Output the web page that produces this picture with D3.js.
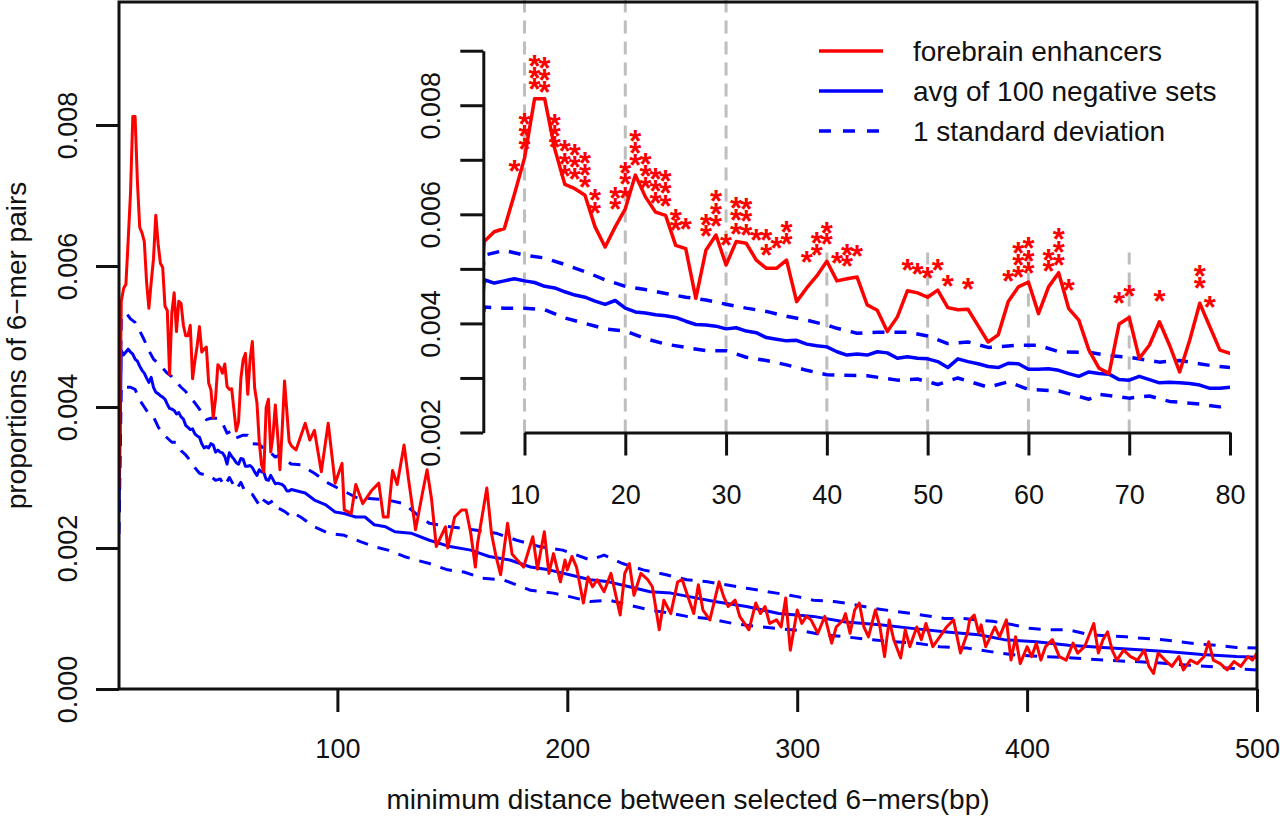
<!DOCTYPE html>
<html>
<head>
<meta charset="utf-8">
<script src="https://cdn.jsdelivr.net/npm/d3@7"></script>
<style>
  body { margin: 0; background: #fff; }
  text { font-family: "Liberation Sans", Arial, Helvetica, sans-serif; fill: #111; }
</style>
</head>
<body>
<svg id="chart" width="1280" height="821"></svg>
<script>
// forebrain enhancers, one value per bp from 5 to 80, then sparser further out
var redNearY = [0.00285, 0.00550, 0.00568, 0.00574, 0.00637, 0.00703, 0.00812, 0.00812, 0.00720, 0.00655,
  0.00647, 0.00635, 0.00577, 0.00540, 0.00577, 0.00610, 0.00672, 0.00632, 0.00604, 0.00598,
  0.00543, 0.00537, 0.00446, 0.00534, 0.00562, 0.00507, 0.00550, 0.00547, 0.00516, 0.00501,
  0.00501, 0.00516, 0.00440, 0.00465, 0.00487, 0.00514, 0.00478, 0.00482, 0.00485, 0.00434,
  0.00424, 0.00385, 0.00412, 0.00460, 0.00456, 0.00448, 0.00461, 0.00429, 0.00425, 0.00426,
  0.00396, 0.00366, 0.00379, 0.00440, 0.00467, 0.00476, 0.00418, 0.00467, 0.00493, 0.00427,
  0.00406, 0.00351, 0.00318, 0.00308, 0.00399, 0.00411, 0.00336, 0.00360, 0.00403, 0.00360,
  0.00311, 0.00369, 0.00437, 0.00394, 0.00351, 0.00345];
var redFarX = [82, 86, 88, 90, 93, 96, 99, 102, 103, 106, 108, 111, 115, 118, 120, 122, 124, 126, 129, 131,
  134, 137, 139, 141, 143, 147, 148, 151, 154, 156, 158, 160, 161, 165, 167, 169, 171, 174, 176, 181,
  185, 187, 190, 192, 194, 197, 199, 200, 202, 204, 207, 209, 211, 213, 216, 219, 223, 225, 227, 229,
  232, 235, 237, 240, 242, 245, 248, 250, 253, 255, 257, 259, 262, 266, 268, 270, 273, 275, 279, 282,
  284, 286, 288, 291, 293, 295, 297, 300, 302, 304, 306, 309, 312, 315, 317, 320, 321, 323, 325, 327,
  329, 331, 334, 336, 338, 340, 342, 345, 347, 349, 352, 354, 356, 359, 362, 365, 368, 371, 374, 375,
  377, 379, 380, 382, 384, 386, 388, 391, 393, 395, 397, 400, 402, 404, 406, 408, 411, 414, 417, 420,
  422, 425, 429, 431, 433, 435, 437, 439, 442, 445, 448, 451, 453, 455, 457, 460, 463, 466, 468, 471,
  474, 477, 479, 481, 484, 487, 490, 493, 496, 498, 500];
var redFarY = [0.00339, 0.00377, 0.00353, 0.00367, 0.00308, 0.00377, 0.00292, 0.00320, 0.00254, 0.00249,
  0.00290, 0.00263, 0.00282, 0.00292, 0.00244, 0.00244, 0.00310, 0.00290, 0.00346, 0.00296,
  0.00226, 0.00278, 0.00311, 0.00268, 0.00202, 0.00230, 0.00200, 0.00244, 0.00254, 0.00254,
  0.00221, 0.00173, 0.00207, 0.00285, 0.00221, 0.00188, 0.00162, 0.00235, 0.00191, 0.00173,
  0.00216, 0.00170, 0.00223, 0.00164, 0.00192, 0.00152, 0.00183, 0.00169, 0.00188, 0.00173,
  0.00122, 0.00159, 0.00145, 0.00155, 0.00138, 0.00164, 0.00105, 0.00164, 0.00178, 0.00133,
  0.00164, 0.00155, 0.00145, 0.00084, 0.00126, 0.00107, 0.00152, 0.00155, 0.00126, 0.00107,
  0.00148, 0.00112, 0.00098, 0.00152, 0.00131, 0.00117, 0.00126, 0.00103, 0.00084, 0.00122,
  0.00107, 0.00117, 0.00093, 0.00098, 0.00088, 0.00129, 0.00055, 0.00112, 0.00093, 0.00103,
  0.00098, 0.00079, 0.00103, 0.00065, 0.00088, 0.00098, 0.00107, 0.00079, 0.00112, 0.00122,
  0.00088, 0.00074, 0.00112, 0.00088, 0.00046, 0.00098, 0.00070, 0.00044, 0.00084, 0.00060,
  0.00088, 0.00070, 0.00093, 0.00060, 0.00074, 0.00088, 0.00098, 0.00051, 0.00079, 0.00098,
  0.00105, 0.00079, 0.00091, 0.00060, 0.00074, 0.00088, 0.00074, 0.00098, 0.00041, 0.00074,
  0.00036, 0.00060, 0.00046, 0.00065, 0.00041, 0.00060, 0.00070, 0.00046, 0.00041, 0.00065,
  0.00051, 0.00060, 0.00093, 0.00051, 0.00070, 0.00081, 0.00055, 0.00041, 0.00055, 0.00046,
  0.00041, 0.00055, 0.00032, 0.00022, 0.00051, 0.00041, 0.00032, 0.00046, 0.00027, 0.00041,
  0.00036, 0.00046, 0.00067, 0.00041, 0.00036, 0.00027, 0.00039, 0.00032, 0.00046, 0.00041, 0.00051];

// avg of 100 negative sets, one value per bp from 5 to 80, then sparser
var avgNearY = [0.00250, 0.00480, 0.00474, 0.00478, 0.00482, 0.00478, 0.00475, 0.00468, 0.00465, 0.00458,
  0.00452, 0.00448, 0.00441, 0.00435, 0.00442, 0.00428, 0.00421, 0.00419, 0.00416, 0.00414,
  0.00411, 0.00404, 0.00398, 0.00397, 0.00395, 0.00390, 0.00392, 0.00386, 0.00383, 0.00374,
  0.00371, 0.00368, 0.00369, 0.00362, 0.00359, 0.00357, 0.00348, 0.00342, 0.00344, 0.00342,
  0.00348, 0.00346, 0.00336, 0.00339, 0.00336, 0.00335, 0.00330, 0.00319, 0.00335, 0.00330,
  0.00326, 0.00321, 0.00319, 0.00327, 0.00326, 0.00316, 0.00316, 0.00317, 0.00314, 0.00308,
  0.00303, 0.00311, 0.00308, 0.00307, 0.00297, 0.00296, 0.00303, 0.00297, 0.00291, 0.00292,
  0.00291, 0.00290, 0.00287, 0.00281, 0.00281, 0.00283];
var avgFarX = [86, 90, 95, 99, 103, 108, 112, 116, 121, 125, 132, 140, 149, 158, 166, 175, 184, 192, 201, 210,
  218, 227, 236, 245, 253, 264, 278, 292, 307, 321, 336, 350, 365, 379, 390, 404, 418, 433, 447, 462,
  476, 491, 500];
var avgFarY = [0.00278, 0.00268, 0.00261, 0.00251, 0.00249, 0.00244, 0.00244, 0.00233, 0.00230, 0.00223,
  0.00221, 0.00211, 0.00202, 0.00197, 0.00188, 0.00183, 0.00173, 0.00169, 0.00162, 0.00155,
  0.00152, 0.00145, 0.00138, 0.00136, 0.00131, 0.00124, 0.00117, 0.00107, 0.00103, 0.00095,
  0.00091, 0.00086, 0.00081, 0.00077, 0.00070, 0.00067, 0.00062, 0.00059, 0.00056, 0.00053,
  0.00049, 0.00046, 0.00045];

// avg + 1 sd
var sdHiX = [5, 6, 8, 10, 12, 14, 16, 18, 20, 22, 24, 26, 28, 30, 32, 34, 36, 38, 40, 41, 43, 45, 48, 50, 52,
  54, 56, 59, 61, 63, 66, 68, 70, 73, 75, 78, 80, 84, 90, 96, 102, 108, 115, 122, 129, 134, 140, 149,
  159, 169, 178, 188, 198, 210, 216, 224, 233, 243, 252, 261, 269, 278, 291, 300, 307, 316, 321, 334,
  343, 350, 364, 372, 385, 394, 401, 410, 418, 427, 443, 450, 459, 466, 474, 482, 491, 500];
var sdHiY = [0.00290, 0.00525, 0.00534, 0.00525, 0.00520, 0.00508, 0.00495, 0.00480, 0.00468, 0.00462,
  0.00455, 0.00448, 0.00443, 0.00435, 0.00428, 0.00422, 0.00413, 0.00406, 0.00397, 0.00391,
  0.00382, 0.00384, 0.00384, 0.00377, 0.00363, 0.00366, 0.00356, 0.00360, 0.00360, 0.00348,
  0.00347, 0.00341, 0.00338, 0.00329, 0.00332, 0.00323, 0.00319, 0.00318, 0.00306, 0.00292,
  0.00282, 0.00272, 0.00270, 0.00268, 0.00263, 0.00249, 0.00235, 0.00230, 0.00226, 0.00221,
  0.00211, 0.00202, 0.00197, 0.00183, 0.00190, 0.00178, 0.00169, 0.00162, 0.00155, 0.00152,
  0.00148, 0.00143, 0.00136, 0.00131, 0.00126, 0.00124, 0.00122, 0.00114, 0.00110, 0.00107,
  0.00100, 0.00100, 0.00096, 0.00091, 0.00086, 0.00084, 0.00084, 0.00077, 0.00074, 0.00072,
  0.00070, 0.00067, 0.00064, 0.00062, 0.00059, 0.00058];

// avg - 1 sd
var sdLoX = [5, 6, 8, 10, 12, 14, 16, 18, 20, 22, 24, 26, 28, 30, 32, 34, 36, 38, 40, 41, 44, 47, 49, 51, 53,
  56, 58, 60, 63, 66, 67, 70, 72, 74, 77, 79, 80, 84, 90, 96, 103, 110, 116, 122, 129, 133, 140, 148,
  155, 163, 172, 184, 194, 201, 210, 218, 227, 236, 246, 252, 261, 272, 282, 291, 301, 311, 321, 332,
  342, 352, 362, 374, 384, 395, 408, 420, 433, 446, 458, 469, 479, 490, 500];
var sdLoY = [0.00220, 0.00430, 0.00428, 0.00428, 0.00425, 0.00410, 0.00400, 0.00390, 0.00386, 0.00372,
  0.00362, 0.00356, 0.00350, 0.00350, 0.00338, 0.00332, 0.00324, 0.00314, 0.00306, 0.00305,
  0.00304, 0.00296, 0.00298, 0.00288, 0.00300, 0.00283, 0.00293, 0.00279, 0.00276, 0.00261,
  0.00270, 0.00263, 0.00267, 0.00257, 0.00252, 0.00247, 0.00251, 0.00244, 0.00230, 0.00221,
  0.00218, 0.00209, 0.00202, 0.00197, 0.00188, 0.00184, 0.00178, 0.00169, 0.00166, 0.00157,
  0.00155, 0.00140, 0.00136, 0.00131, 0.00124, 0.00126, 0.00119, 0.00112, 0.00107, 0.00103,
  0.00100, 0.00093, 0.00089, 0.00086, 0.00083, 0.00077, 0.00074, 0.00070, 0.00067, 0.00065,
  0.00060, 0.00058, 0.00053, 0.00048, 0.00046, 0.00044, 0.00041, 0.00039, 0.00037, 0.00034,
  0.00032, 0.00029, 0.00027];

// significance asterisks in the inset (bp, height)
var starX = [9, 10, 10, 10, 11, 11, 11, 12, 12, 12, 13, 13, 13, 14, 14, 14, 15, 15, 15, 16, 16, 16,
  17, 17, 19, 19, 20, 20, 20, 21, 21, 21, 22, 22, 22, 23, 23, 23, 24, 24, 24, 25, 25, 26,
  28, 28, 29, 29, 29, 30, 31, 31, 31, 32, 32, 32, 33, 34, 34, 35, 36, 36, 38, 39, 39, 40, 40,
  41, 42, 42, 43, 48, 49, 50, 51, 52, 54, 58, 59, 59, 59, 60, 60, 60, 62, 62, 63, 63, 63, 64,
  69, 70, 73, 77, 77, 78];
var starY = [0.00690, 0.00777, 0.00754, 0.00731, 0.00883, 0.00861, 0.00840, 0.00879, 0.00858, 0.00836,
  0.00775, 0.00754, 0.00734, 0.00727, 0.00704, 0.00682, 0.00720, 0.00698, 0.00675, 0.00705,
  0.00684, 0.00661, 0.00637, 0.00614, 0.00641, 0.00620, 0.00687, 0.00666, 0.00641, 0.00745,
  0.00723, 0.00702, 0.00703, 0.00682, 0.00659, 0.00675, 0.00653, 0.00632, 0.00672, 0.00650,
  0.00627, 0.00601, 0.00583, 0.00585, 0.00592, 0.00571, 0.00635, 0.00612, 0.00589, 0.00554,
  0.00622, 0.00600, 0.00575, 0.00620, 0.00598, 0.00574, 0.00564, 0.00564, 0.00537, 0.00549,
  0.00579, 0.00556, 0.00523, 0.00559, 0.00537, 0.00577, 0.00556, 0.00522, 0.00537, 0.00516,
  0.00534, 0.00509, 0.00501, 0.00494, 0.00509, 0.00479, 0.00474, 0.00488, 0.00540, 0.00518,
  0.00496, 0.00549, 0.00525, 0.00503, 0.00528, 0.00507, 0.00565, 0.00542, 0.00519, 0.00472,
  0.00448, 0.00462, 0.00452, 0.00498, 0.00476, 0.00441];

// grey guide lines in the inset and how high each one reaches
var guideX = [10, 20, 30, 40, 50, 60, 70];
var guideTop = [0.0100, 0.0100, 0.0100, 0.0053, 0.0053, 0.0053, 0.0053];

var mainXTicks = [100, 200, 300, 400, 500];
var mainYTicks = [0, 0.002, 0.004, 0.006, 0.008];
var insetXTicks = [10, 20, 30, 40, 50, 60, 70, 80];
var insetYTicks = [0.002, 0.003, 0.004, 0.005, 0.006, 0.007, 0.008, 0.009];

var legendLabels = ["forebrain enhancers", "avg of 100 negative sets", "1 standard deviation"];

var RED = "#ff0000", BLUE = "#0000ff", GREY = "#bebebe";
var FONT = '"Liberation Sans", Arial, Helvetica, sans-serif';

function zip(xs, ys) {
  return xs.map(function(d, i) { return {x: d, y: ys[i]}; });
}

var nearX = d3.range(5, 81);
var red = zip(nearX.concat(redFarX), redNearY.concat(redFarY));
var avg = zip(nearX.concat(avgFarX), avgNearY.concat(avgFarY));
var sdHi = zip(sdHiX, sdHiY);
var sdLo = zip(sdLoX, sdLoY);

var series = [
  {data: sdHi, color: BLUE, dash: "12,10"},
  {data: sdLo, color: BLUE, dash: "12,10"},
  {data: avg, color: BLUE, dash: null},
  {data: red, color: RED, dash: null}
];

var svg = d3.select("#chart");

// main plot region
var box = {left: 119, right: 1257, top: 2, bottom: 689};
var x = d3.scaleLinear().domain([5, 500]).range([box.left, box.right]);
var y = d3.scaleLinear().domain([0, 0.008]).range([box.bottom, 125]);

// inset plot region
var inset = {left: 483.3, right: 1230, top: 0, bottom: 432.5};
var xi = d3.scaleLinear().domain([10, 80]).range([524.5, 1230]);
var yi = d3.scaleLinear().domain([0.002, 0.009]).range([432.5, 50.7]);

var defs = svg.append("defs");
defs.append("clipPath").attr("id", "clipMain").append("rect")
    .attr("x", box.left).attr("y", box.top)
    .attr("width", box.right - box.left).attr("height", box.bottom - box.top);
defs.append("clipPath").attr("id", "clipInset").append("rect")
    .attr("x", inset.left).attr("y", inset.top)
    .attr("width", inset.right - inset.left).attr("height", inset.bottom - inset.top);

// ---- main lines
var mainLine = d3.line().x(function(d) { return x(d.x); }).y(function(d) { return y(d.y); });
var gMain = svg.append("g").attr("clip-path", "url(#clipMain)");
series.forEach(function(s) {
  gMain.append("path")
      .datum(s.data)
      .attr("d", mainLine)
      .attr("fill", "none")
      .attr("stroke", s.color)
      .attr("stroke-width", 3)
      .attr("stroke-dasharray", s.dash)
      .attr("stroke-linejoin", "round");
});

// ---- inset
var gInset = svg.append("g").attr("clip-path", "url(#clipInset)");

gInset.selectAll(".guide")
    .data(guideX)
  .enter().append("line")
    .attr("class", "guide")
    .attr("x1", function(d) { return xi(d); })
    .attr("x2", function(d) { return xi(d); })
    .attr("y1", yi(0.002))
    .attr("y2", function(d, i) { return yi(guideTop[i]); })
    .attr("stroke", GREY)
    .attr("stroke-width", 3)
    .attr("stroke-dasharray", "13,8");

var insetLine = d3.line().x(function(d) { return xi(d.x); }).y(function(d) { return yi(d.y); });
series.forEach(function(s) {
  gInset.append("path")
      .datum(s.data.filter(function(d) { return d.x <= 82; }))
      .attr("d", insetLine)
      .attr("fill", "none")
      .attr("stroke", s.color)
      .attr("stroke-width", 3.5)
      .attr("stroke-dasharray", s.dash)
      .attr("stroke-linejoin", "round");
});

// significance asterisks, drawn as text like the original
svg.append("g").selectAll("text")
    .data(zip(starX, starY))
  .enter().append("text")
    .attr("x", function(d) { return xi(d.x); })
    .attr("y", function(d) { return yi(d.y); })
    .attr("dy", "0.55em")
    .attr("text-anchor", "middle")
    .style("fill", RED)
    .style("font-size", "31px")
    .style("font-weight", "bold")
    .text("*");

// ---- axes
function styleAxis(g) {
  g.attr("font-family", FONT).attr("font-size", 27);
  g.selectAll("line").attr("stroke", "#111").attr("stroke-width", 3);
  g.selectAll(".domain").attr("stroke", "#111").attr("stroke-width", 3);
  g.selectAll("text").style("fill", "#111");
}

var ax1 = svg.append("g")
    .attr("transform", "translate(" + box.left + ",0)")
    .call(d3.axisLeft(y).tickValues(mainYTicks).tickSize(23).tickFormat(d3.format(".3f")));
ax1.select(".domain").remove();
styleAxis(ax1);
ax1.selectAll(".tick text")
    .attr("x", 0).attr("dy", 0)
    .attr("text-anchor", "middle")
    .attr("transform", "translate(-42,0) rotate(-90)");

var ax2 = svg.append("g")
    .attr("transform", "translate(0," + box.bottom + ")")
    .call(d3.axisBottom(x).tickValues(mainXTicks).tickSize(23).tickFormat(d3.format("d")));
ax2.select(".domain").remove();
styleAxis(ax2);
ax2.selectAll(".tick text").attr("y", 69).attr("dy", 0);

var ax3 = svg.append("g")
    .attr("transform", "translate(" + inset.left + ",0)")
    .call(d3.axisLeft(yi).tickValues(insetYTicks).tickSize(23).tickSizeOuter(0)
      .tickFormat(function(d) { return Math.round(d * 1000) % 2 === 0 ? d3.format(".3f")(d) : ""; }));
styleAxis(ax3);
ax3.selectAll(".tick text")
    .attr("x", 0).attr("dy", 0)
    .attr("text-anchor", "middle")
    .attr("transform", "translate(-43,0) rotate(-90)");

var ax4 = svg.append("g")
    .attr("transform", "translate(0," + inset.bottom + ")")
    .call(d3.axisBottom(xi).tickValues(insetXTicks).tickSize(23).tickSizeOuter(0));
styleAxis(ax4);
ax4.selectAll(".tick text").attr("y", 71.5).attr("dy", 0);

// box round the main plot
svg.append("rect")
    .attr("x", box.left).attr("y", box.top)
    .attr("width", box.right - box.left).attr("height", box.bottom - box.top)
    .attr("fill", "none")
    .attr("stroke", "#111")
    .attr("stroke-width", 3);

// axis titles
svg.append("text")
    .attr("x", (box.left + box.right) / 2)
    .attr("y", 809)
    .attr("text-anchor", "middle")
    .style("font-size", "28px")
    .text("minimum distance between selected 6\u2212mers(bp)");

svg.append("text")
    .attr("transform", "translate(26," + (box.top + box.bottom) / 2 + ") rotate(-90)")
    .attr("text-anchor", "middle")
    .style("font-size", "28px")
    .text("proportions of 6\u2212mer pairs");

// legend
var legend = svg.append("g").selectAll("g")
    .data(legendLabels)
  .enter().append("g")
    .attr("transform", function(d, i) { return "translate(819," + (51 + i * 40) + ")"; });

legend.append("line")
    .attr("x1", 0).attr("x2", 64)
    .attr("stroke", function(d, i) { return i === 0 ? RED : BLUE; })
    .attr("stroke-width", 3.5)
    .attr("stroke-dasharray", function(d, i) { return i === 2 ? "12,12" : null; });

legend.append("text")
    .attr("x", 94)
    .attr("dy", "0.35em")
    .style("font-size", "28px")
    .text(function(d) { return d; });
</script>
</body>
</html>
